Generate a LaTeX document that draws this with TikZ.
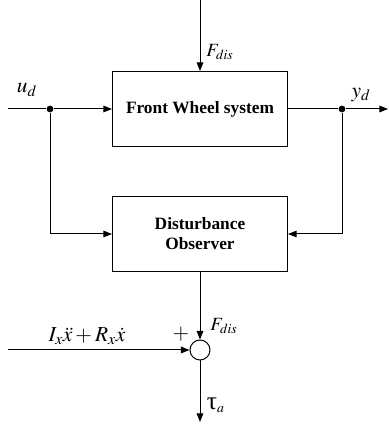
\documentclass[tikz,border=0pt]{standalone}
\usepackage{mathptmx}
\usepackage{fontspec}
\setmainfont{Liberation Serif}
\usetikzlibrary{arrows.meta,positioning}
\tikzset{
  >={Triangle[length=6.5pt,width=5pt]},
  every picture/.style={line width=0.75pt},
  block/.style={draw, minimum width=131.25pt, minimum height=56.25pt, align=center, font=\fontsize{13}{15}\selectfont\bfseries},
  sumnode/.style={draw, circle, minimum size=15pt, inner sep=0pt},
  arrow/.style={->},
  dot/.style={circle, fill, inner sep=1.8pt},
  lbl/.style={inner sep=1pt, font=\fontsize{14}{16}\selectfont},
  biglbl/.style={inner sep=1pt, font=\fontsize{16}{18}\selectfont}
}
\begin{document}
\begin{tikzpicture}[x=0.75pt,y=0.75pt]
  \useasboundingbox (0,0) rectangle (389,425);

  \node[block] (fw) at (200,316) {Front Wheel system};
  \node[block] (dob) at (200,191) {Disturbance\\Observer};
  \node[sumnode] (sum) at (200,75) {};

  \node[dot] (ud) at (50,316) {};
  \node[dot] (yd) at (342,316) {};
  \coordinate (in) at (8,316);
  \coordinate (out) at (388,316);
  \coordinate (top) at (200,425);
  \coordinate (inx) at (8,75);
  \coordinate (tau) at (200,3);

  \draw (in) -- (ud);
  \draw[arrow] (ud) -- (fw);
  \draw (fw) -- (yd);
  \draw[arrow] (yd) -- (out);
  \draw[arrow] (top) -- (fw);
  \draw[arrow] (ud) |- (dob);
  \draw[arrow] (yd) |- (dob);
  \draw[arrow] (dob) -- (sum);
  \draw[arrow] (inx) -- (sum);
  \draw[arrow] (sum) -- (tau);

  \node[biglbl] (udlbl) at (27,335) {$u_d$};
  \node[biglbl] (ydlbl) at (361,330) {$y_d$};
  \node[lbl] (fdistop) at (220,373) {$F_{dis}$};
  \node[lbl] (fdisbot) at (224,99) {$F_{dis}$};
  \node[biglbl] (ixlbl) at (87,89) {$I_x\ddot{x}+R_x\dot{x}$};
  \node[biglbl] (plus) at (181,91) {$+$};
  \node[biglbl, anchor=west] (taulbl) at (205,20) {\fontsize{19}{21}\selectfont τ\fontsize{14}{16}\selectfont$_a$};
\end{tikzpicture}
\end{document}
